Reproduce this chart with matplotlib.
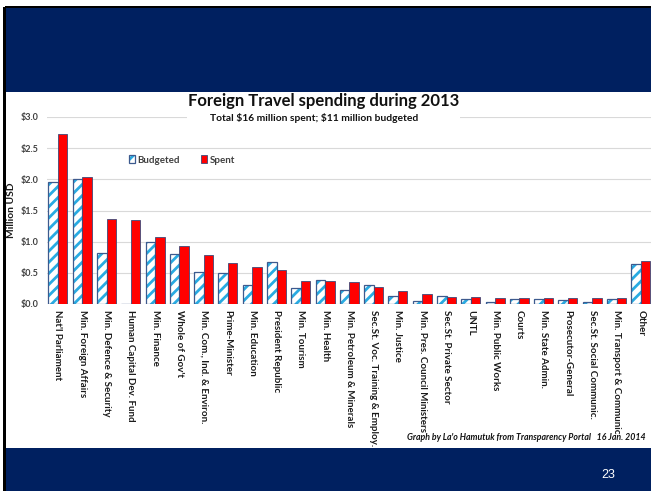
import numpy as np
import matplotlib.pyplot as plt
from matplotlib.patches import Rectangle, Patch

plt.rcParams["font.family"] = ["Lato", "DejaVu Sans"]
plt.rcParams["hatch.linewidth"] = 2.0

categories = [
    "Nat'l Parliament", "Min. Foreign Affairs", "Min. Defence & Security",
    "Human Capital Dev. Fund", "Min. Finance", "Whole of Gov't",
    "Min. Com., Ind. & Environ.", "Prime-Minister", "Min. Education",
    "President Republic", "Min. Tourism", "Min. Health",
    "Min. Petroleum & Minerals", "Sec.St. Voc. Training & Employ.",
    "Min. Justice", "Min. Pres. Council Ministers", "Sec.St. Private Sector",
    "UNTL", "Min. Public Works", "Courts", "Min. State Admin.",
    "Prosecutor-General", "Sec.St. Social Communic.",
    "Min. Transport & Communic.", "Other",
]
budgeted = [1.95, 2.00, 0.82, 0.00, 0.99, 0.81, 0.52, 0.49, 0.31, 0.67, 0.26, 0.38,
            0.23, 0.30, 0.13, 0.05, 0.13, 0.085, 0.04, 0.08, 0.085, 0.07, 0.04,
            0.075, 0.635]
spent = [2.72, 2.03, 1.37, 1.34, 1.07, 0.93, 0.78, 0.66, 0.60, 0.54, 0.37, 0.37,
         0.35, 0.28, 0.21, 0.155, 0.12, 0.11, 0.10, 0.10, 0.10, 0.10, 0.095,
         0.10, 0.69]
yticks = [0.0, 0.5, 1.0, 1.5, 2.0, 2.5, 3.0]

navy = "#002060"
W, H = 651, 491

fig = plt.figure(figsize=(W / 100, H / 100), dpi=100)


def px_rect(x0, y0, x1, y1, **kw):
    # rectangle given in pixel coordinates measured from the top-left corner
    r = Rectangle((x0 / W, 1 - y1 / H), (x1 - x0) / W, (y1 - y0) / H,
                  transform=fig.transFigure, **kw)
    fig.patches.append(r)
    return r


# slide frame: header band, footer band, dark left edge
px_rect(5, 7, W, 92, facecolor=navy, edgecolor="none", zorder=0)
px_rect(5, 448, W, H, facecolor=navy, edgecolor="none", zorder=0)
px_rect(3, 7, 6, H, facecolor="black", edgecolor="none", zorder=0)
px_rect(5, 6, W, 8, facecolor="black", edgecolor="none", zorder=0)

ax = fig.add_axes([47 / W, 1 - 304 / H, (W - 47) / W, (304 - 117) / H])
x = np.arange(len(categories))
w = 0.39

ax.bar(x - w / 2, budgeted, w, facecolor="white", edgecolor="#29abe2",
       hatch="///", linewidth=0, zorder=2)
ax.bar(x - w / 2, budgeted, w, fill=False, edgecolor="#3d5a8e",
       linewidth=0.9, zorder=3)
ax.bar(x + w / 2, spent, w, facecolor="#ff0000", edgecolor="#3d4a7a",
       linewidth=0.6, zorder=3)

ax.set_xlim(-0.45, 24.42)
ax.set_ylim(0, 3.0)
ax.set_yticks(yticks)
ax.set_yticklabels([f"${v:.1f}" for v in yticks], fontsize=6.5,
                   fontweight="bold", color="#404040")
ax.set_xticks(x)
ax.set_xticklabels(categories, rotation=270, fontsize=7.0, fontweight="bold",
                   color="#1a1a1a", va="top", ha="center")
ax.tick_params(axis="both", length=0)
ax.tick_params(axis="x", pad=4)
ax.tick_params(axis="y", pad=6)
ax.grid(axis="y", color="#d9d9d9", linewidth=0.8, zorder=0)
ax.set_axisbelow(True)
for s in ax.spines.values():
    s.set_visible(False)

fig.text(12 / W, 1 - 210 / H, "Million USD", rotation=90, ha="center",
         va="center", fontsize=7.4, fontweight="bold", color="#1a1a1a",
         zorder=6)

h_budget = (Patch(facecolor="white", edgecolor="#29abe2", hatch="///", linewidth=0),
            Patch(fill=False, edgecolor="#3d5a8e", linewidth=0.9))
h_spent = Patch(facecolor="#ff0000", edgecolor="#3d4a7a", linewidth=0.6)
ax.legend([h_budget, h_spent], ["Budgeted", "Spent"], ncol=2, frameon=False,
          loc="center left", bbox_to_anchor=(82 / (W - 47), (304 - 160) / 187),
          prop={"size": 7, "weight": "bold"}, labelcolor="#404040",
          handlelength=0.6, handleheight=0.9, handletextpad=0.25,
          columnspacing=2.2, borderaxespad=0, borderpad=0)

# white band behind the title
px_rect(187, 95, 460, 124, facecolor="white", edgecolor="none", zorder=5)
fig.text(324 / W, 1 - 101 / H, "Foreign Travel spending during 2013",
         ha="center", va="center", fontsize=12, fontweight="bold",
         color="#111111", zorder=6)
fig.text(314 / W, 1 - 118 / H, r"Total \$16 million spent; \$11 million budgeted",
         ha="center", va="center", fontsize=7.4, fontweight="bold",
         color="#111111", zorder=6)

fig.text(646 / W, 1 - 438 / H,
         "Graph by La'o Hamutuk from Transparency Portal   16 Jan. 2014",
         ha="right", va="center", fontsize=6.3, fontweight="bold",
         style="italic", color="#111111")
fig.text(608 / W, 1 - 475 / H, "23", ha="center", va="center", fontsize=9,
         color="white", family=["Liberation Sans", "DejaVu Sans"])

fig.savefig("out.png", dpi=100)
